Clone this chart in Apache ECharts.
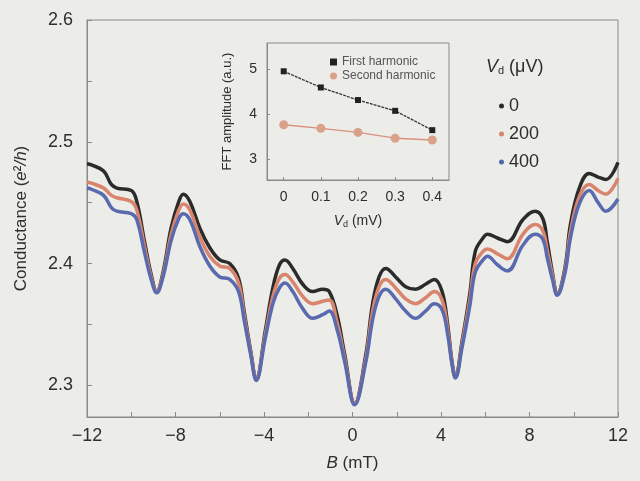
<!DOCTYPE html>
<html>
<head>
<meta charset="utf-8">
<script src="https://cdn.jsdelivr.net/npm/echarts@6/dist/echarts.min.js"></script>
<style>
  html, body { margin: 0; padding: 0; background: #ecece9; }
  #main { width: 640px; height: 481px; }
</style>
</head>
<body>
<div id="main"></div>
<script>
// magnetic field B (mT)
var fieldB = [-12, -11.8, -11.25, -10.9, -10.65, -10.0, -9.75, -9.4, -9.1, -8.85, -8.55, -8.2, -7.85, -7.65, -7.35,
  -6.9, -6.45, -6.0, -5.55, -5.15, -4.9, -4.6, -4.35, -3.95, -3.6, -3.3, -3.05, -2.7, -2.25, -1.8, -1.35, -1.05,
  -0.7, -0.35, 0.1, 0.6, 0.9, 1.2, 1.5, 1.95, 2.4, 2.85, 3.3, 3.7, 4.05, 4.3, 4.5, 4.65, 4.95, 5.3, 5.55, 5.9,
  6.1, 6.55, 7.0, 7.7, 8.25, 8.6, 8.8, 9.05, 9.25, 9.6, 9.85, 10.25, 10.7, 11.1, 11.45, 12.0]

// conductance (e^2/h) for Vd = 0, 200, 400 uV
var g0 = [2.482, 2.481, 2.476, 2.465, 2.462, 2.460, 2.451, 2.418, 2.391, 2.377, 2.394, 2.429, 2.451, 2.457, 2.451,
  2.429, 2.413, 2.403, 2.400, 2.388, 2.361, 2.328, 2.305, 2.344, 2.380, 2.399, 2.403, 2.396, 2.383, 2.377, 2.379, 2.377,
  2.358, 2.325, 2.285, 2.325, 2.366, 2.389, 2.396, 2.389, 2.381, 2.379, 2.383, 2.387, 2.377, 2.350, 2.319, 2.307, 2.336,
  2.375, 2.410, 2.421, 2.424, 2.421, 2.418, 2.436, 2.443, 2.437, 2.418, 2.391, 2.375, 2.396, 2.432, 2.462, 2.474,
  2.471, 2.469, 2.483]
var g200 = [2.467, 2.466, 2.462, 2.456, 2.454, 2.451, 2.444, 2.414, 2.389, 2.377, 2.392, 2.424, 2.444, 2.449, 2.444,
  2.422, 2.406, 2.398, 2.396, 2.384, 2.358, 2.327, 2.305, 2.341, 2.373, 2.388, 2.391, 2.385, 2.373, 2.367, 2.369, 2.370,
  2.352, 2.322, 2.285, 2.322, 2.360, 2.381, 2.387, 2.380, 2.371, 2.367, 2.372, 2.377, 2.370, 2.346, 2.318, 2.307, 2.334,
  2.370, 2.400, 2.410, 2.412, 2.408, 2.404, 2.424, 2.432, 2.427, 2.411, 2.389, 2.375, 2.394, 2.426, 2.455, 2.465,
  2.460, 2.457, 2.470]
var g400 = [2.462, 2.461, 2.456, 2.446, 2.443, 2.441, 2.436, 2.409, 2.387, 2.376, 2.390, 2.419, 2.437, 2.441, 2.436,
  2.414, 2.398, 2.389, 2.387, 2.377, 2.354, 2.325, 2.304, 2.338, 2.367, 2.380, 2.384, 2.377, 2.363, 2.355, 2.358, 2.361,
  2.346, 2.319, 2.284, 2.319, 2.353, 2.373, 2.379, 2.371, 2.361, 2.355, 2.361, 2.367, 2.362, 2.342, 2.317, 2.306, 2.331,
  2.365, 2.393, 2.403, 2.406, 2.399, 2.394, 2.415, 2.424, 2.420, 2.405, 2.386, 2.374, 2.392, 2.421, 2.449, 2.460,
  2.450, 2.443, 2.453]

// inset: FFT amplitude vs Vd (mV)
var insetVd = [0, 0.1, 0.2, 0.3, 0.4]
var firstHarm = [4.95, 4.59, 4.31, 4.07, 3.64]
var secondHarm = [3.76, 3.68, 3.59, 3.46, 3.42]

var xTicks = [-12, -10, -8, -6, -4, -2, 0, 2, 4, 6, 8, 10, 12]
var xLabels = [-12, -8, -4, 0, 4, 8, 12]
var yTicks = [2.3, 2.35, 2.4, 2.45, 2.5, 2.55, 2.6]
var yLabels = [2.3, 2.4, 2.5, 2.6]

function pairs(xs, ys) {
  return xs.map(function (x, i) { return [x, ys[i]] })
}

var font = 'Liberation Sans'
var txt = '#2e2e2e'
var frame = '#8a8a8a'

var chart = echarts.init(document.getElementById('main'))
chart.setOption({
  backgroundColor: '#ecece9',
  animation: false,
  textStyle: { fontFamily: font, color: txt },
  grid: [
    { left: 87, right: 22, top: 20, bottom: 64, show: true, borderColor: frame, borderWidth: 1, backgroundColor: 'transparent' },
    { left: 267, top: 43, width: 182, height: 137, show: true, borderColor: frame, borderWidth: 1, backgroundColor: 'transparent' }
  ],
  legend: [{
    data: ['0', '200', '400'],
    orient: 'vertical',
    left: 494,
    top: 92,
    itemWidth: 5,
    itemHeight: 5,
    itemGap: 10,
    icon: 'circle',
    textStyle: { fontSize: 18, color: txt, fontFamily: font }
  }, {
    data: [{ name: 'First harmonic', icon: 'rect' }, { name: 'Second harmonic', icon: 'circle' }],
    orient: 'vertical',
    left: 325,
    top: 51,
    itemWidth: 7,
    itemHeight: 7,
    itemGap: 2,
    textStyle: { fontSize: 12, color: '#555', fontFamily: font }
  }],
  graphic: [{
    type: 'text',
    left: 486,
    top: 58,
    style: {
      text: '{i|V}{s|d} (μV)',
      fill: txt,
      font: '18px "Liberation Sans"',
      rich: {
        i: { fontStyle: 'italic', fontSize: 18, fontFamily: font },
        s: { fontSize: 11, fontFamily: font, padding: [8, 0, 0, 0] }
      }
    }
  }],
  xAxis: [{
    gridIndex: 0,
    type: 'value',
    min: -12,
    max: 12,
    name: '{i|B} (mT)',
    nameLocation: 'middle',
    nameGap: 38,
    nameTextStyle: { fontSize: 17, color: txt, rich: { i: { fontStyle: 'italic', fontSize: 17 } } },
    axisLine: { onZero: false, lineStyle: { color: frame } },
    axisTick: { inside: true, length: 5, lineStyle: { color: frame }, customValues: xTicks },
    axisLabel: {
      fontSize: 18, color: txt, margin: 10, customValues: xLabels,
      formatter: function (v) { return String(v).replace('-', '−') }
    },
    splitLine: { show: false }
  }, {
    gridIndex: 1,
    type: 'value',
    min: -0.045,
    max: 0.445,
    name: '{i|V}{s|d} (mV)',
    nameLocation: 'middle',
    nameGap: 34,
    nameTextStyle: {
      fontSize: 14, color: txt,
      rich: { i: { fontStyle: 'italic', fontSize: 14 }, s: { fontSize: 9, padding: [6, 0, 0, 0] } }
    },
    axisLine: { onZero: false, lineStyle: { color: frame } },
    axisTick: { inside: true, length: 3, lineStyle: { color: frame }, customValues: insetVd },
    axisLabel: { fontSize: 14, color: txt, margin: 10, customValues: insetVd },
    splitLine: { show: false }
  }],
  yAxis: [{
    gridIndex: 0,
    type: 'value',
    min: 2.274,
    max: 2.6,
    name: 'Conductance ({i|e}²{i|/h})',
    nameLocation: 'middle',
    nameGap: 57,
    nameTextStyle: { fontSize: 17, color: txt, rich: { i: { fontStyle: 'italic', fontSize: 17 } } },
    axisLine: { onZero: false, lineStyle: { color: frame } },
    axisTick: { inside: true, length: 5, lineStyle: { color: frame }, customValues: yTicks },
    axisLabel: {
      fontSize: 18, color: txt, margin: 14, customValues: yLabels,
      formatter: function (v) { return v.toFixed(1) }
    },
    splitLine: { show: false }
  }, {
    gridIndex: 1,
    type: 'value',
    min: 2.53,
    max: 5.58,
    name: 'FFT amplitude (a.u.)',
    nameLocation: 'middle',
    nameGap: 33,
    nameTextStyle: { fontSize: 13, color: txt },
    axisLine: { onZero: false, lineStyle: { color: frame } },
    axisTick: { inside: true, length: 3, lineStyle: { color: frame }, customValues: [3, 4, 5] },
    axisLabel: { fontSize: 14, color: txt, margin: 10, customValues: [3, 4, 5] },
    splitLine: { show: false }
  }],
  series: [{
    name: '0',
    type: 'line',
    xAxisIndex: 0, yAxisIndex: 0,
    data: pairs(fieldB, g0),
    smooth: 0.4,
    showSymbol: false,
    itemStyle: { color: '#2b2b2b' },
    lineStyle: { color: '#2b2b2b', width: 3.5 }
  }, {
    name: '200',
    type: 'line',
    xAxisIndex: 0, yAxisIndex: 0,
    data: pairs(fieldB, g200),
    smooth: 0.4,
    showSymbol: false,
    itemStyle: { color: '#d9846c' },
    lineStyle: { color: '#d9846c', width: 3.5 }
  }, {
    name: '400',
    type: 'line',
    xAxisIndex: 0, yAxisIndex: 0,
    data: pairs(fieldB, g400),
    smooth: 0.4,
    showSymbol: false,
    itemStyle: { color: '#4d67ad' },
    lineStyle: { color: '#5a6aae', width: 3.5 }
  }, {
    name: 'First harmonic',
    type: 'line',
    xAxisIndex: 1, yAxisIndex: 1,
    data: pairs(insetVd, firstHarm),
    symbol: 'rect',
    symbolSize: 6,
    itemStyle: { color: '#222' },
    lineStyle: { color: '#333', width: 1.3, type: [3, 1] }
  }, {
    name: 'Second harmonic',
    type: 'line',
    xAxisIndex: 1, yAxisIndex: 1,
    data: pairs(insetVd, secondHarm),
    symbol: 'circle',
    symbolSize: 9,
    itemStyle: { color: '#dba08a' },
    lineStyle: { color: '#d9917a', width: 1.3 }
  }]
})
</script>
</body>
</html>
